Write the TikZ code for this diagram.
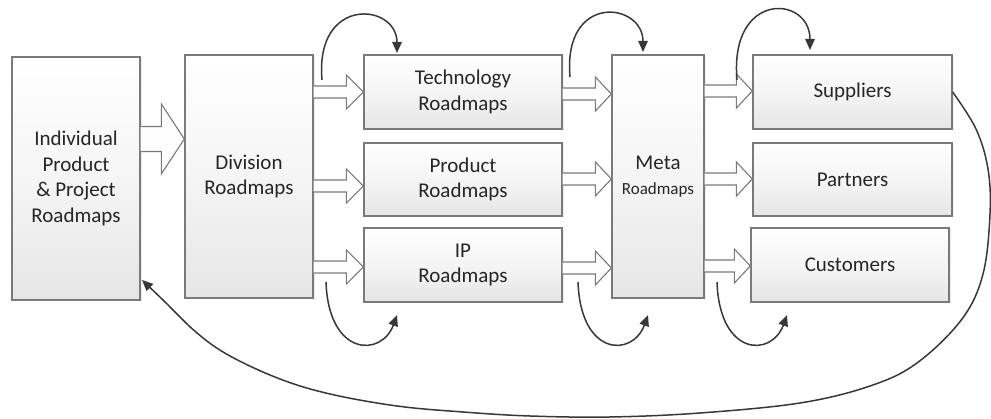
\documentclass[tikz,border=0pt]{standalone}
\usepackage{fontspec}
\setmainfont{Carlito}
\usetikzlibrary{arrows.meta,calc,shadows}

\definecolor{boxline}{HTML}{7A7A7A}
\definecolor{boxshade}{HTML}{E6E6E6}
\definecolor{loopline}{HTML}{383838}
\definecolor{txt}{HTML}{262626}

% block arrow between two boxes: from, to, y, half shaft, half head, head length
\newcommand{\BlockArrow}[6]{%
  \draw[blockarrow] ($(#1.east |- 0,#3)+(0,-#4)$) -- ($(#2.west |- 0,#3)+(-#6,-#4)$)
    -- ($(#2.west |- 0,#3)+(-#6,-#5)$) -- (#2.west |- 0,#3)
    -- ($(#2.west |- 0,#3)+(-#6,#5)$) -- ($(#2.west |- 0,#3)+(-#6,#4)$)
    -- ($(#1.east |- 0,#3)+(0,#4)$);}

\begin{document}
\begin{tikzpicture}[x=1pt,y=1pt]

\tikzset{
  RoadBox/.style = { rectangle, draw=boxline, line width=1.3pt,
                     top color=white, bottom color=boxshade, middle color=white!60!boxshade,
                     drop shadow={shadow xshift=1.5pt, shadow yshift=-1.5pt, opacity=0.15},
                     text=txt, align=center, inner sep=2pt,
                     font=\fontsize{21}{25.5}\selectfont },
  blockarrow/.style = { draw=boxline, line width=1.1pt, fill=white!94!boxshade },
  loopedge/.style = { draw=loopline, line width=1.5pt,
                      -{Triangle[length=11pt,width=9.5pt]} } }

  \useasboundingbox (0,0) rectangle (991,419);

  \node[RoadBox, minimum width=128, minimum height=243] (ind) at (76,240.5)
    {Individual\\Product\\\& Project\\Roadmaps};
  \node[RoadBox, minimum width=128, minimum height=243] (div) at (249,242.5)
    {Division\\Roadmaps};

  \node[RoadBox, minimum width=198, minimum height=74] (tech) at (463,327)
    {Technology\\Roadmaps};
  \node[RoadBox, minimum width=198, minimum height=73] (prod) at (463,239.5)
    {Product\\Roadmaps};
  \node[RoadBox, minimum width=198, minimum height=74] (ip) at (463,154)
    {IP\\Roadmaps};

  \node[RoadBox, minimum width=92, minimum height=243] (meta) at (658,242.5)
    {Meta\\{\fontsize{17}{20}\selectfont Roadmaps}};

  \node[RoadBox, minimum width=199, minimum height=74] (sup) at (852.5,327) {Suppliers};
  \node[RoadBox, minimum width=199, minimum height=73] (part) at (852.5,239.5) {Partners};
  \node[RoadBox, minimum width=198, minimum height=74] (cust) at (850,154) {Customers};

  % block arrows
  \BlockArrow{ind}{div}{280}{12.5}{35}{23}
  \BlockArrow{div}{tech}{327}{6}{17}{17}
  \BlockArrow{div}{prod}{233}{6}{17}{17}
  \BlockArrow{div}{ip}{152}{6}{17}{17}
  \BlockArrow{tech}{meta}{325}{6}{17}{16}
  \BlockArrow{prod}{meta}{240}{6}{17}{16}
  \BlockArrow{ip}{meta}{151}{6}{17}{16}
  \BlockArrow{meta}{sup}{328}{6}{17}{16}
  \BlockArrow{meta}{part}{240}{6}{17}{16}
  \BlockArrow{meta}{cust}{153}{6}{17}{16}

  % loop ends
  \coordinate (d1) at (322,339);  \coordinate (d1e) at (397,366);
  \coordinate (m1) at (570,342);  \coordinate (m1e) at (643,367);
  \coordinate (s1) at (737,339);  \coordinate (s1e) at (810,369);
  \coordinate (d2) at (326,137);  \coordinate (d2e) at (397,104);
  \coordinate (m2) at (578,137);  \coordinate (m2e) at (648,104);
  \coordinate (s2) at (717,137);  \coordinate (s2e) at (787,104);
  \coordinate (back) at (142,139);

  \draw[loopedge] (d1) .. controls +(95:85) and +(90:50) .. (d1e);
  \draw[loopedge] (m1) .. controls +(95:85) and +(90:50) .. (m1e);
  \draw[loopedge] (s1) .. controls +(95:90) and +(90:55) .. (s1e);
  \draw[loopedge] (d2) .. controls +(-88:75) and +(-110:45) .. (d2e);
  \draw[loopedge] (m2) .. controls +(-88:75) and +(-110:45) .. (m2e);
  \draw[loopedge] (s2) .. controls +(-88:75) and +(-110:45) .. (s2e);

  % feedback to the start
  \draw[loopedge] plot[smooth, tension=0.6] coordinates {(sup.east) (976,290) (988,250)
    (990,205) (983,145) (962,100) (917,56) (870,33) (800,16) (700,6) (610,2) (530,3)
    (463,7) (397,13) (330,25) (280,40) (230,63) (197,86) (163,119) (back)};

\end{tikzpicture}
\end{document}
